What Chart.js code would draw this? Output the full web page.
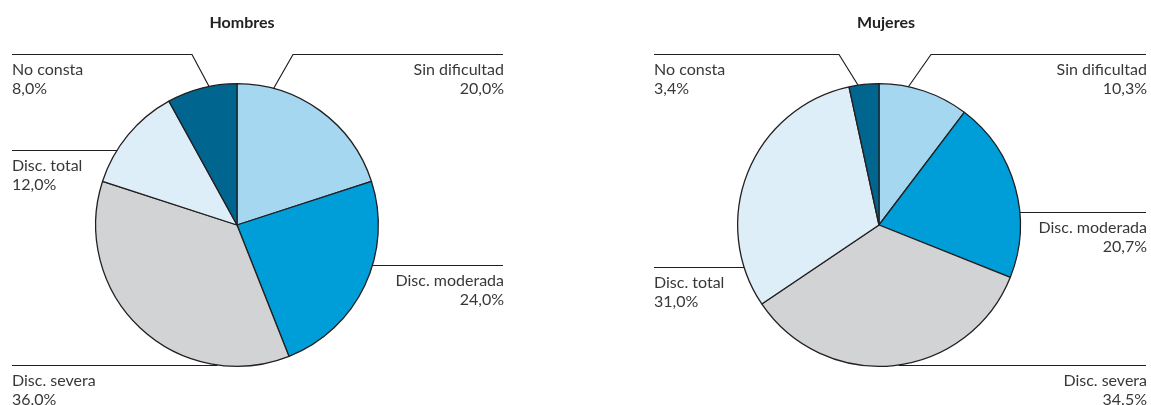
<!DOCTYPE html>
<html>
<head>
<meta charset="utf-8">
<script src="https://cdn.jsdelivr.net/npm/chart.js@4.4.1/dist/chart.umd.min.js"></script>
<style>
  html, body { margin: 0; padding: 0; background: #ffffff; }
  #wrap { position: relative; width: 1151px; height: 405px; overflow: hidden; }
  canvas { position: absolute; top: 0; }
</style>
</head>
<body>
<div id="wrap">
  <canvas id="hombres" width="575" height="405" style="left:0"></canvas>
  <canvas id="mujeres" width="576" height="405" style="left:575px"></canvas>
</div>
<script>
// categorías (en orden horario desde las 12)
const categorias = ["Sin dificultad", "Disc. moderada", "Disc. severa", "Disc. total", "No consta"];
const colores = ["#a5d8f0", "#009ed9", "#d2d3d5", "#ddeef9", "#00658f"];

// valores (%)
const hombres = [20.0, 24.0, 36.0, 12.0, 8.0];
const mujeres = [10.3, 20.7, 34.5, 31.0, 3.4];

// textos tal como aparecen
const hombresTxt = ["20,0%", "24,0%", "36.0%", "12,0%", "8,0%"];
const mujeresTxt = ["10,3%", "20,7%", "34.5%", "31,0%", "3,4%"];

const FONT = "Lato, 'Open Sans', sans-serif";
const LINE = "#231f20";
const TEXT = "#383838";

// posiciones de las etiquetas (lado, altura de la línea, codo, ángulo en el borde)
const hombresLayout = {
  title: "Hombres", titleX: 242, left: 12, right: 503,
  items: [
    { side: "right", y: 54, elbow: 293, angle: 15 },
    { side: "right", y: 265 },
    { side: "left", y: 365 },
    { side: "left", y: 150 },
    { side: "left", y: 54, elbow: 192, angle: 348.6 }
  ]
};
const mujeresLayout = {
  title: "Mujeres", titleX: 311, left: 79, right: 571,
  items: [
    { side: "right", y: 54, elbow: 356, angle: 12 },
    { side: "right", y: 212 },
    { side: "right", y: 365 },
    { side: "left", y: 267 },
    { side: "left", y: 54, elbow: 264, angle: 351.5 }
  ]
};

const leaderPlugin = {
  id: "leaders",
  afterDraw(chart) {
    const opts = chart.options.plugins.leaders;
    const ctx = chart.ctx;
    const arc = chart.getDatasetMeta(0).data[0];
    const cx = arc.x, cy = arc.y, r = arc.outerRadius;

    ctx.save();
    // título
    ctx.fillStyle = "#222";
    ctx.font = "bold 16px " + FONT;
    ctx.textAlign = "center";
    ctx.textBaseline = "alphabetic";
    ctx.fillText(opts.title, opts.titleX, 28);

    ctx.strokeStyle = LINE;
    ctx.lineWidth = 1.2;
    opts.items.forEach((it, i) => {
      const y = it.y + 0.5;
      ctx.beginPath();
      if (it.elbow !== undefined) {
        const a = it.angle * Math.PI / 180;
        const px = cx + r * Math.sin(a);
        const py = cy - r * Math.cos(a);
        const endX = it.side === "left" ? opts.left : opts.right;
        ctx.moveTo(endX, y);
        ctx.lineTo(it.elbow, y);
        ctx.lineTo(px, py);
      } else {
        const dy = Math.abs(cy - it.y);
        const dx = dy < r ? Math.sqrt(r * r - dy * dy) : 0;
        if (it.side === "left") {
          ctx.moveTo(opts.left, y);
          ctx.lineTo(cx - dx, y);
        } else {
          ctx.moveTo(cx + dx, y);
          ctx.lineTo(opts.right, y);
        }
      }
      ctx.stroke();

      ctx.fillStyle = TEXT;
      ctx.font = "16px " + FONT;
      ctx.textAlign = it.side === "left" ? "left" : "right";
      const tx = it.side === "left" ? opts.left : opts.right + 1;
      ctx.fillText(chart.data.labels[i], tx, it.y + 21);
      ctx.fillText(opts.valueText[i], tx, it.y + 40);
    });
    ctx.restore();
  }
};

function makePie(id, values, texts, layout, pad) {
  return new Chart(document.getElementById(id), {
    type: "pie",
    data: {
      labels: categorias,
      datasets: [{
        data: values,
        backgroundColor: colores,
        borderColor: LINE,
        borderWidth: 1.3
      }]
    },
    options: {
      responsive: false,
      animation: false,
      events: [],
      layout: { padding: pad },
      plugins: {
        legend: { display: false },
        tooltip: { enabled: false },
        leaders: Object.assign({ valueText: texts }, layout)
      }
    },
    plugins: [leaderPlugin]
  });
}

makePie("hombres", hombres, hombresTxt, hombresLayout, { left: 95, right: 196, top: 83, bottom: 38 });
makePie("mujeres", mujeres, mujeresTxt, mujeresLayout, { left: 162, right: 130, top: 83, bottom: 38 });
</script>
</body>
</html>
